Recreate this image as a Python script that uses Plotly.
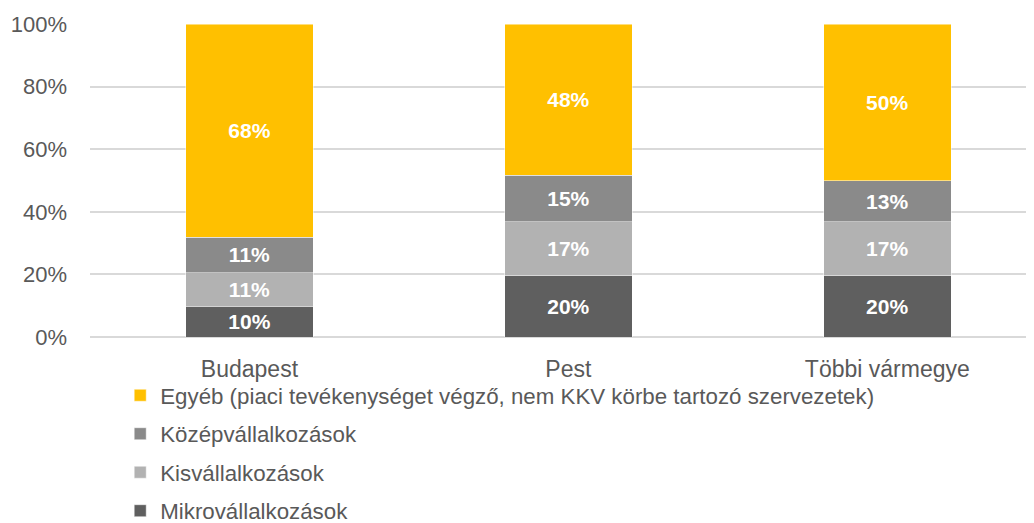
import plotly.graph_objects as go

categories = ["Budapest", "Pest", "Többi vármegye"]
series_names = [
    "Mikrovállalkozások",
    "Kisvállalkozások",
    "Középvállalkozások",
    "Egyéb (piaci tevékenységet végző, nem KKV körbe tartozó szervezetek)",
]
mikro = [9.8, 19.6, 19.6]
kis = [10.8, 17.2, 17.2]
kozep = [11.2, 14.8, 13.2]
egyeb = [68.2, 48.4, 50.0]
colors = ["#5f5f5f", "#b2b2b2", "#8a8a8a", "#ffc000"]
y_ticks = [0, 20, 40, 60, 80, 100]
y_tick_labels = ["0%", "20%", "40%", "60%", "80%", "100%"]

fig = go.Figure()
for i, (name, vals, col) in enumerate(zip(series_names, [mikro, kis, kozep, egyeb], colors)):
    fig.add_trace(go.Bar(
        x=categories, y=vals, name=name,
        marker=dict(color=col, line=dict(color="rgba(255,255,255,0.6)", width=0.8)),
        width=0.4,
        texttemplate="%{y:.0f}%", textposition="inside", insidetextanchor="middle",
        textfont=dict(color="white", size=21, family="Liberation Sans", weight="bold"),
        textangle=0,
        legendgroup=str(i),
        legendrank=10 - i,
    ))

fig.update_layout(
    barmode="stack",
    width=1026, height=515,
    margin=dict(l=82, r=0, t=16, b=186, autoexpand=False),
    plot_bgcolor="white", paper_bgcolor="white",
    font=dict(family="Liberation Sans", color="#595959"),
    uniformtext=dict(mode=False),
    legend=dict(
        orientation="v", traceorder="grouped", tracegroupgap=6.5,
        x=0.032, xanchor="left", y=-0.119, yanchor="top",
        bgcolor="rgba(0,0,0,0)",
        font=dict(size=22.3, family="Liberation Sans", color="#595959"),
        itemwidth=30,
    ),
    xaxis=dict(range=[-0.5, 2.46], showgrid=False, showline=False, ticks="",
               tickfont=dict(size=23, color="#595959"), ticklabelstandoff=16),
    yaxis=dict(range=[0, 100], tickvals=y_ticks, ticktext=y_tick_labels,
               showgrid=True, gridcolor="#d9d9d9", gridwidth=1.5,
               zeroline=True, zerolinecolor="#d9d9d9", zerolinewidth=1.5,
               showline=False, ticks="", tickfont=dict(size=22, color="#595959"),
               ticklabelstandoff=22),
)

fig.write_html("out.html")
